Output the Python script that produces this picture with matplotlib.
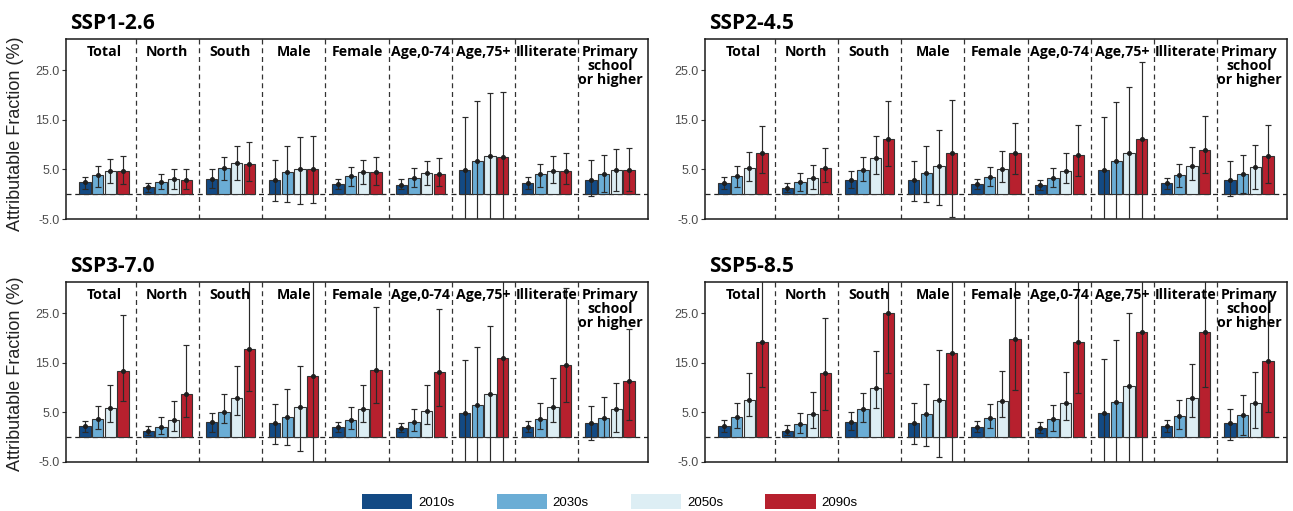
"""
Attributable fraction by subgroup and period, four SSP scenarios (2x2 panels).
Writes out.png
"""

import matplotlib.pyplot as plt
import numpy as np
from matplotlib.patches import Patch
from matplotlib.ticker import FormatStrFormatter

GROUPS = ["Total", "North", "South", "Male", "Female", "Age,0-74", "Age,75+",
          "Illiterate", "Primary\nschool\nor higher"]
PERIODS = ["2010s", "2030s", "2050s", "2090s"]
COLORS = ["#134a84", "#6badd5", "#ddeef4", "#b7202e"]

# mean attributable fraction (%) per group, columns = periods
SSP126_AF = [[2.4, 3.9, 4.7, 4.7], [1.5, 2.5, 3.0, 2.9], [3.1, 5.2, 6.3, 6.1],
             [2.9, 4.5, 5.1, 5.1], [2.1, 3.6, 4.5, 4.4], [1.9, 3.3, 4.2, 4.1],
             [4.9, 6.7, 7.7, 7.5], [2.3, 4.0, 4.7, 4.7], [2.8, 4.1, 4.8, 4.8]]
SSP126_LO = [[1.1, 1.5, 2.3, 2.0], [0.5, 1.0, 1.0, 1.1], [1.2, 2.9, 2.9, 2.7],
             [-1.3, -1.6, -1.9, -1.8], [1.0, 1.7, 2.0, 1.9], [1.0, 1.4, 1.8, 1.7],
             [-10.5, -12.0, -13.0, -13.0], [1.0, 1.5, 2.3, 2.0], [-0.3, 0.4, 0.7, 0.7]]
SSP126_HI = [[3.5, 5.7, 7.0, 7.6], [2.3, 4.1, 5.0, 5.0], [5.0, 7.5, 9.7, 10.6],
             [6.8, 9.7, 11.5, 11.8], [3.1, 5.4, 6.9, 7.4], [3.0, 5.3, 6.7, 7.2],
             [15.5, 18.7, 20.3, 20.5], [3.5, 6.1, 7.7, 8.3], [6.8, 7.9, 9.0, 9.3]]

SSP245_AF = [[2.3, 3.7, 5.3, 8.3], [1.3, 2.5, 3.2, 5.3], [2.9, 4.9, 7.3, 11.1],
             [2.9, 4.3, 5.7, 8.2], [2.1, 3.5, 5.1, 8.2], [1.9, 3.2, 4.7, 7.8],
             [4.9, 6.7, 8.3, 11.1], [2.3, 3.8, 5.6, 8.9], [2.8, 4.1, 5.5, 7.7]]
SSP245_LO = [[1.1, 1.4, 2.7, 4.3], [0.5, 0.7, 1.1, 2.4], [1.3, 2.7, 4.0, 5.7],
             [-1.3, -1.5, -2.2, -4.6], [1.0, 1.6, 2.4, 4.1], [0.9, 1.4, 2.3, 3.7],
             [-10.5, -12.0, -14.0, -16.0], [1.1, 1.5, 2.8, 4.3], [-0.4, 0.3, 1.0, 2.2]]
SSP245_HI = [[3.4, 5.7, 8.5, 13.7], [2.3, 4.3, 5.8, 9.2], [4.7, 7.5, 11.8, 18.8],
             [6.7, 9.7, 13.0, 19.0], [3.1, 5.5, 8.6, 14.3], [2.9, 5.3, 8.3, 13.9],
             [15.5, 18.5, 21.6, 26.7], [3.3, 6.1, 9.6, 15.8], [6.7, 7.9, 10.0, 13.9]]

SSP370_AF = [[2.2, 3.6, 5.8, 13.4], [1.3, 2.1, 3.5, 8.7], [3.0, 5.0, 7.9, 17.8],
             [2.9, 4.1, 6.1, 12.3], [2.0, 3.4, 5.6, 13.5], [1.9, 3.1, 5.3, 13.1],
             [4.9, 6.5, 8.7, 15.9], [2.1, 3.7, 6.1, 14.6], [2.8, 3.9, 5.7, 11.3]]
SSP370_LO = [[1.1, 1.7, 3.1, 7.3], [0.5, 0.7, 1.3, 4.0], [1.1, 2.8, 4.5, 9.3],
             [-1.3, -1.6, -2.8, -12.0], [1.1, 1.7, 3.1, 6.8], [1.0, 1.3, 2.7, 6.2],
             [-10.5, -12.0, -14.0, -18.0], [1.1, 1.6, 3.1, 7.1], [-0.5, 0.1, 1.0, 3.5]]
SSP370_HI = [[3.3, 6.2, 10.5, 24.6], [2.3, 4.0, 7.3, 18.5], [4.8, 8.7, 14.3, 36.0],
             [6.6, 9.7, 14.4, 36.0], [3.0, 6.0, 10.6, 26.2], [2.9, 5.6, 10.5, 25.8],
             [15.5, 18.1, 22.4, 36.0], [3.2, 6.9, 11.9, 30.0], [6.3, 8.1, 11.0, 21.7]]

SSP585_AF = [[2.2, 4.1, 7.4, 19.2], [1.3, 2.6, 4.6, 13.0], [3.1, 5.7, 10.0, 25.1],
             [2.9, 4.7, 7.4, 16.9], [2.0, 3.9, 7.2, 19.7], [1.9, 3.7, 6.9, 19.1],
             [4.9, 7.1, 10.3, 21.1], [2.2, 4.3, 7.9, 21.2], [2.8, 4.5, 6.9, 15.3]]
SSP585_LO = [[1.1, 1.8, 4.3, 10.2], [0.4, 0.9, 1.8, 5.5], [1.5, 3.1, 5.8, 12.9],
             [-1.3, -1.7, -3.9, -12.0], [1.0, 1.9, 4.0, 9.5], [0.9, 1.3, 3.5, 8.9],
             [-10.5, -12.0, -15.0, -20.0], [1.1, 1.6, 4.0, 10.2], [-0.5, 0.4, 1.8, 5.1]]
SSP585_HI = [[3.5, 6.8, 12.9, 36.0], [2.5, 4.9, 9.1, 24.1], [5.0, 8.8, 17.3, 36.0],
             [6.8, 10.7, 17.5, 36.0], [3.2, 6.7, 13.3, 36.0], [3.0, 6.4, 13.1, 36.0],
             [15.7, 19.5, 25.1, 36.0], [3.5, 7.5, 14.8, 36.0], [5.7, 8.4, 13.1, 29.5]]

W, H = 1293, 511
OFFSETS = [-0.3, -0.1, 0.1, 0.3]
DASH = (0, (4, 3))
TICK_FONT = "Liberation Sans"
LABEL_FONT = "Open Sans"


def px_axes(fig, left, top, right, bottom):
    return fig.add_axes([left / W, 1 - bottom / H, (right - left) / W, (bottom - top) / H])


def draw_panel(ax, title, af, lo, hi):
    af, lo, hi = np.array(af), np.array(lo), np.array(hi)
    x = np.arange(1, len(GROUPS) + 1)
    ax.axhline(0, color="#222222", lw=0.9, ls=DASH, zorder=1)
    for b in x[:-1] + 0.5:
        ax.axvline(b, color="#333333", lw=0.9, ls=DASH, zorder=1)
    for j, color in enumerate(COLORS):
        xs = x + OFFSETS[j]
        ax.bar(xs, af[:, j], width=0.18, color=color, edgecolor="#333333",
               linewidth=0.8, zorder=2)
        ax.errorbar(xs, af[:, j], yerr=[af[:, j] - lo[:, j], hi[:, j] - af[:, j]],
                    fmt="o", ms=2.6, color="#1e1e1e", ecolor="#2a2a2a",
                    elinewidth=0.85, capsize=1.9, capthick=0.85, zorder=3)
    for xi, name in zip(x, GROUPS):
        ax.annotate(name, xy=(xi, 1), xycoords=("data", "axes fraction"),
                    xytext=(0, -6), textcoords="offset pixels", ha="center",
                    va="top", fontsize=10.2, fontweight="bold",
                    family=LABEL_FONT, linespacing=0.98, zorder=5)
    ax.annotate(title, xy=(0, 1), xycoords="axes fraction", xytext=(4, 10),
                textcoords="offset pixels", ha="left", va="baseline",
                fontsize=15, fontweight="bold", family=LABEL_FONT)
    ax.set_xlim(0.4, 9.6)
    ax.set_ylim(-5, 31.25)
    ax.set_xticks([])
    ax.set_yticks([-5, 5, 15, 25])
    ax.yaxis.set_major_formatter(FormatStrFormatter("%.1f"))
    ax.tick_params(axis="y", length=3, width=0.8, pad=1.5, labelsize=9,
                   color="#333333", labelcolor="#4d4d4d")
    for lab in ax.get_yticklabels():
        lab.set_family(TICK_FONT)
    for sp in ax.spines.values():
        sp.set_linewidth(1.1)
        sp.set_color("#1a1a1a")


def main():
    fig = plt.figure(figsize=(W / 100, H / 100), dpi=100)
    panels = [
        ("SSP1-2.6", SSP126_AF, SSP126_LO, SSP126_HI, (66, 39, 648, 219)),
        ("SSP2-4.5", SSP245_AF, SSP245_LO, SSP245_HI, (705, 39, 1287, 219)),
        ("SSP3-7.0", SSP370_AF, SSP370_LO, SSP370_HI, (66, 282, 648, 462)),
        ("SSP5-8.5", SSP585_AF, SSP585_LO, SSP585_HI, (705, 282, 1287, 462)),
    ]
    for title, af, lo, hi, box in panels:
        ax = px_axes(fig, *box)
        draw_panel(ax, title, af, lo, hi)

    for yc in (134, 374):
        fig.text(16 / W, 1 - yc / H, "Attributable Fraction (%)", rotation=90,
                 ha="center", va="center", fontsize=13, family=TICK_FONT,
                 color="#222222")

    handles = [Patch(facecolor=c, edgecolor="none", label=p)
               for p, c in zip(PERIODS, COLORS)]
    fig.legend(handles=handles, loc="upper left", ncol=4,
               bbox_to_anchor=(362 / W, 1 - 494 / H), frameon=False,
               borderpad=0, borderaxespad=0, handlelength=3.8, handleheight=1.4,
               handletextpad=0.45, columnspacing=3.2,
               prop={"family": TICK_FONT, "size": 9.5})

    fig.savefig("out.png", dpi=100)


if __name__ == "__main__":
    main()
